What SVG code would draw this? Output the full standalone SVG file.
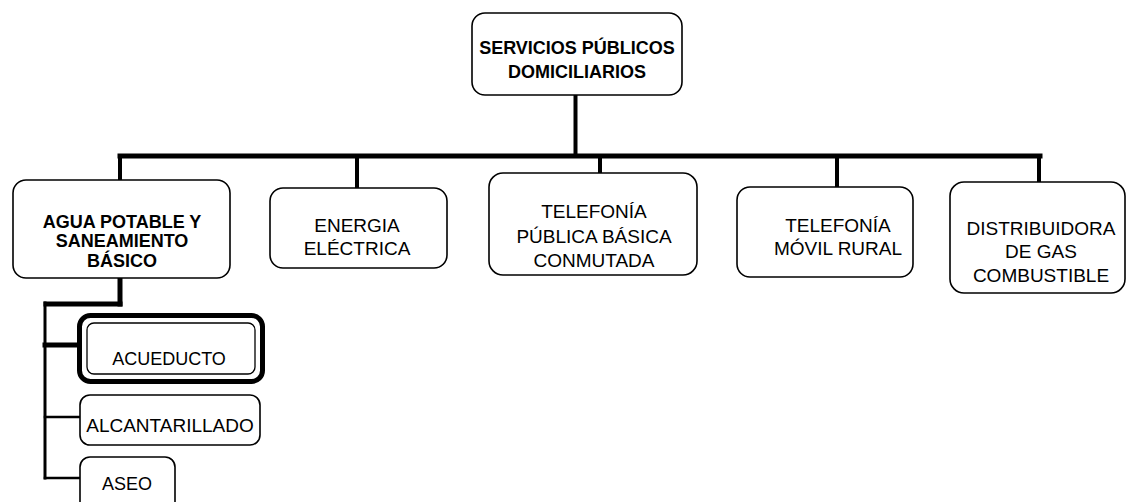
<svg xmlns="http://www.w3.org/2000/svg" width="1130" height="502" viewBox="0 0 1130 502">
<style>
.box{fill:#fff;stroke:#000;stroke-width:1.6}
.thick{stroke-width:5}
.thin{stroke-width:1.3}
.t{font-family:"Liberation Sans",Arial,sans-serif;font-size:19px;fill:#000;text-anchor:middle}
.s{font-size:18px}
.b{font-weight:bold;font-size:18px}
.c{stroke:#000;fill:none;stroke-linecap:square}
</style>
<rect width="1130" height="502" fill="#fff"/>
<g id="connectors">
<line class="c" x1="575.5" y1="95" x2="575.5" y2="156" stroke-width="4"/>
<line class="c" x1="120" y1="156" x2="1040" y2="156" stroke-width="5"/>
<line class="c" x1="120" y1="156" x2="120" y2="180" stroke-width="4"/>
<line class="c" x1="357" y1="156" x2="357" y2="188" stroke-width="4"/>
<line class="c" x1="600" y1="156" x2="600" y2="173" stroke-width="4"/>
<line class="c" x1="837" y1="156" x2="837" y2="187" stroke-width="4"/>
<line class="c" x1="1039" y1="156" x2="1039" y2="182" stroke-width="4"/>
<line class="c" x1="120" y1="278" x2="120" y2="304" stroke-width="5"/>
<line class="c" x1="46" y1="304" x2="120" y2="304" stroke-width="5"/>
<line class="c" x1="45" y1="303" x2="45" y2="478" stroke-width="3"/>
<line class="c" x1="45" y1="345" x2="78" y2="345" stroke-width="5"/>
<line class="c" x1="45" y1="417" x2="80" y2="417" stroke-width="2.5"/>
<line class="c" x1="45" y1="478" x2="80" y2="478" stroke-width="2.5"/>
</g>
<g id="servicios">
<rect class="box" x="472" y="13" width="210" height="82" rx="13"/>
<text class="t b" x="577" y="54">SERVICIOS PÚBLICOS</text>
<text class="t b" x="577" y="78">DOMICILIARIOS</text>
</g>
<g id="agua">
<rect class="box" x="13" y="180" width="217" height="98" rx="13"/>
<text class="t b" x="122" y="228">AGUA POTABLE Y</text>
<text class="t b" x="122" y="247">SANEAMIENTO</text>
<text class="t b" x="122" y="267">BÁSICO</text>
</g>
<g id="energia">
<rect class="box" x="270" y="188" width="177" height="80" rx="13"/>
<text class="t" x="357" y="232">ENERGIA</text>
<text class="t" x="357" y="255">ELÉCTRICA</text>
</g>
<g id="telefonia-publica">
<rect class="box" x="489" y="173" width="208" height="102" rx="14"/>
<text class="t" x="594" y="218">TELEFONÍA</text>
<text class="t" x="594" y="243">PÚBLICA BÁSICA</text>
<text class="t" x="594" y="267">CONMUTADA</text>
</g>
<g id="telefonia-movil">
<rect class="box" x="737" y="187" width="176" height="90" rx="13"/>
<text class="t" x="838" y="232">TELEFONÍA</text>
<text class="t" x="838" y="255">MÓVIL RURAL</text>
</g>
<g id="gas">
<rect class="box" x="950" y="182" width="175" height="111" rx="14"/>
<text class="t" x="1041" y="235">DISTRIBUIDORA</text>
<text class="t" x="1041" y="258">DE GAS</text>
<text class="t" x="1041" y="282">COMBUSTIBLE</text>
</g>
<g id="acueducto">
<rect class="box thick" x="79.5" y="315.5" width="183" height="66" rx="11"/>
<rect class="box thin" x="87" y="323" width="168" height="51" rx="7"/>
<text class="t s" x="169" y="365">ACUEDUCTO</text>
</g>
<g id="alcantarillado">
<rect class="box" x="80" y="395" width="180" height="50" rx="10"/>
<text class="t" x="170" y="432">ALCANTARILLADO</text>
</g>
<g id="aseo">
<rect class="box" x="80" y="457" width="95" height="60" rx="10"/>
<text class="t s" x="127" y="490">ASEO</text>
</g>
</svg>
